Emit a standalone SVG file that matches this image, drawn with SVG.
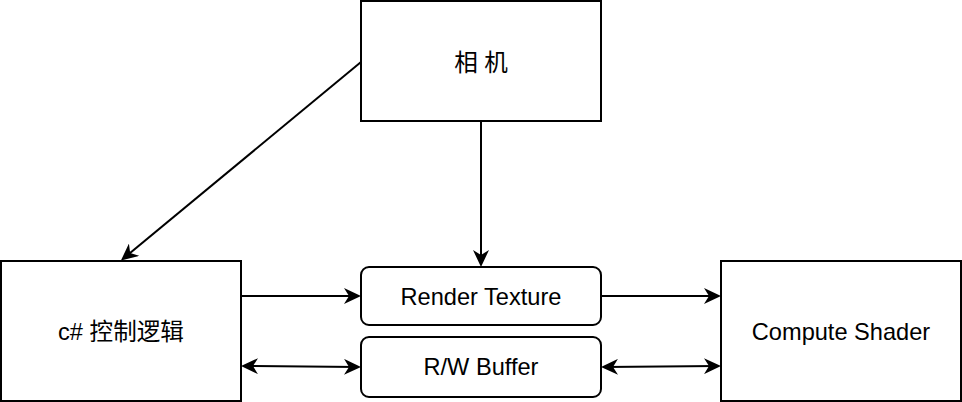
<svg xmlns="http://www.w3.org/2000/svg" width="962" height="402" viewBox="0 0 962 402">
<style>
.box{fill:#fff;stroke:#000;stroke-width:2}
.t{font-family:"Liberation Sans","Noto Sans CJK SC",Arial,sans-serif;font-size:23.6px;fill:#000;text-anchor:middle}
.c{fill:none;stroke:#000;stroke-width:2}
</style>
<defs>
<marker id="a" markerUnits="userSpaceOnUse" markerWidth="17" markerHeight="16" refX="13" refY="8" orient="auto-start-reverse" viewBox="0 0 17 16">
<path d="M0,0 L17,8 L0,16 L5,8 Z" fill="#000"/>
</marker>
</defs>
<rect width="962" height="402" fill="#fff"/>
<g id="camera"><rect class="box" x="361" y="1" width="240" height="120"/><text class="t" x="481" y="71">相 机</text></g>
<g id="csharp"><rect class="box" x="1" y="261" width="240" height="140"/><text class="t" x="121" y="340">c# 控制逻辑</text></g>
<g id="compute"><rect class="box" x="721" y="261" width="240" height="140"/><text class="t" x="841" y="340">Compute Shader</text></g>
<g id="rendertexture"><rect class="box" x="361" y="267" width="240" height="58" rx="8"/><text class="t" x="481" y="305">Render Texture</text></g>
<g id="rwbuffer"><rect class="box" x="361" y="337" width="240" height="60" rx="8"/><text class="t" x="481" y="375">R/W Buffer</text></g>
<g id="connectors">
<path class="c" d="M361,62 L124,258" marker-end="url(#a)"/>
<path class="c" d="M481,121 L481,263" marker-end="url(#a)"/>
<path class="c" d="M241,296 L357,296" marker-end="url(#a)"/>
<path class="c" d="M601,296 L717,296" marker-end="url(#a)"/>
<path class="c" d="M245,366 L357,367" marker-start="url(#a)" marker-end="url(#a)"/>
<path class="c" d="M605,367 L717,366" marker-start="url(#a)" marker-end="url(#a)"/>
</g>
</svg>
